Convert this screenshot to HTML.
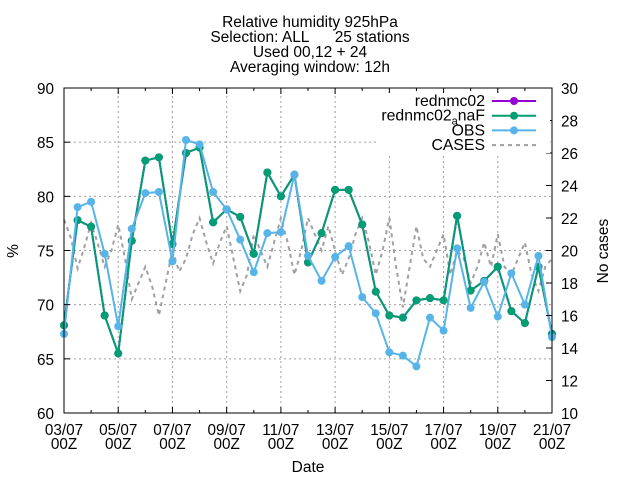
<!DOCTYPE html>
<html><head><meta charset="utf-8"><style>
body{margin:0;background:#fff}
svg{display:block;font-family:"Liberation Sans",sans-serif}
</style></head><body>
<svg id="chart" width="640" height="480" viewBox="0 0 640 480" xmlns="http://www.w3.org/2000/svg">
<g font-size="15.5" text-anchor="middle" fill="#000" style="white-space:pre">
<text x="310" y="27">Relative humidity 925hPa</text>
<text x="310" y="42" xml:space="preserve">Selection: ALL      25 stations</text>
<text x="310" y="57">Used 00,12 + 24</text>
<text x="310" y="72">Averaging window: 12h</text>
</g>
<g id="grid"></g>
<g id="series"></g>
<g id="axes"></g>
<text x="18" y="251" font-size="15.5" text-anchor="middle" transform="rotate(-90 18 251)">%</text>
<text x="608" y="251" font-size="15.5" text-anchor="middle" transform="rotate(-90 608 251)">No cases</text>
<text x="308" y="472" font-size="15.5" text-anchor="middle">Date</text>
<g id="legend"></g>
</svg>
<script>
const xTickLabels=["03/07","05/07","07/07","09/07","11/07","13/07","15/07","17/07","19/07","21/07"];
const yTicks=[60,65,70,75,80,85,90];
const y2Ticks=[10,12,14,16,18,20,22,24,26,28,30];
const naF=[68.1,77.8,77.2,69.0,65.5,75.9,83.3,83.6,75.6,84.0,84.5,77.6,78.8,78.1,74.7,82.2,80.0,82.0,73.9,76.6,80.6,80.6,77.4,71.2,69.0,68.8,70.4,70.6,70.4,78.2,71.3,72.2,73.5,69.4,68.3,73.5,67.3];
const rednmc=naF.slice();
const obs=[67.3,79.0,79.5,74.7,68.0,77.0,80.3,80.4,74.0,85.2,84.8,80.4,78.8,76.0,73.0,76.6,76.7,82.0,74.5,72.2,74.4,75.4,70.7,69.2,65.6,65.3,64.3,68.8,67.6,75.2,69.7,72.1,68.9,72.9,70.0,74.5,67.0];
const cases=[21.9,20.8,18.9,20.2,21.7,20.4,19.0,20.0,21.6,19.5,17.0,18.0,19.0,17.8,16.0,18.0,20.0,18.7,19.5,21.0,22.0,20.5,19.2,20.5,21.5,19.5,17.5,18.5,21.0,20.0,19.0,20.5,22.0,20.5,18.5,20.0,22.0,21.0,20.0,21.5,20.0,18.5,19.5,21.0,22.0,20.5,18.5,20.0,22.0,19.0,16.5,19.0,21.5,19.5,19.0,20.0,21.0,18.5,20.0,19.5,18.0,19.0,20.5,19.0,21.0,19.0,18.5,19.5,20.5,18.5,17.5,19.0,19.5];

const X0=64,X1=552,Y0=413,Y1=88,DAYS=18;
const xDay=d=>X0+(X1-X0)*d/DAYS;
const y=v=>Y0-(v-60)*(Y0-Y1)/30;
const y2=v=>Y0-(v-10)*(Y0-Y1)/20;
const NS="http://www.w3.org/2000/svg";
function mk(tag,attrs,parent){const e=document.createElementNS(NS,tag);for(const k in attrs)e.setAttribute(k,attrs[k]);parent.appendChild(e);return e;}
const grid=document.getElementById('grid'),axes=document.getElementById('axes'),ser=document.getElementById('series'),leg=document.getElementById('legend');

yTicks.forEach(v=>{
 if(v>60&&v<90){const l=mk('line',{x1:X0,x2:X1,y1:y(v),y2:y(v),stroke:'#a0a0a0','stroke-dasharray':'2,3'},grid);
 
 }
 const t=mk('text',{x:X0-10,y:y(v)+6,'font-size':15.3,'text-anchor':'end'},axes);t.textContent=v;
 
 
 mk('line',{x1:X0,x2:X0+6,y1:y(v),y2:y(v),stroke:'#000'},axes);
});
y2Ticks.forEach(v=>{
 const t=mk('text',{x:X1+9,y:y2(v)+6,'font-size':15.3},axes);t.textContent=v;
 
 
 mk('line',{x1:X1-6,x2:X1,y1:y2(v),y2:y2(v),stroke:'#000'},axes);
});
for(let d=1;d<DAYS;d+=2){
 mk('line',{x1:xDay(d),x2:xDay(d),y1:Y0,y2:Y0-3,stroke:'#000'},axes);
 mk('line',{x1:xDay(d),x2:xDay(d),y1:Y1,y2:Y1+3,stroke:'#000'},axes);
}
xTickLabels.forEach((s,i)=>{
 const x=xDay(i*2);
 if(i>0&&i<xTickLabels.length-1){const l=mk('line',{x1:x,x2:x,y1:Y0,y2:Y1,stroke:'#a0a0a0','stroke-dasharray':'2,3'},grid);
 
 }
 mk('line',{x1:x,x2:x,y1:Y0,y2:Y0-6,stroke:'#000'},axes);
 mk('line',{x1:x,x2:x,y1:Y1,y2:Y1+6,stroke:'#000'},axes);
 const t=mk('text',{x:x,y:435,'font-size':15.3,'text-anchor':'middle'},axes);t.textContent=s;
 
 
 const t2=mk('text',{x:x,y:449,'font-size':15.3,'text-anchor':'middle'},axes);t2.textContent='00Z';
 
 
});
const frame=mk('rect',{x:X0,y:Y1,width:X1-X0,height:Y0-Y1,fill:'none',stroke:'#000'},axes);



function line(vals,step,fy,color,dash,w,name){
 const pts=vals.map((v,i)=>xDay(i*step)+','+fy(v)).join(' ');
 const p=mk('polyline',{points:pts,fill:'none',stroke:color,'stroke-width':w,'stroke-dasharray':dash||'none'},ser);
 
 
}
function markers(vals,color,name){
 vals.forEach((v,i)=>{const c=mk('circle',{cx:xDay(i*0.5),cy:y(v),r:4,fill:color},ser);
 
 });
}
line(cases,0.25,y2,'#a0a0a0','4,4',2,'cases-line');
line(rednmc,0.5,y,'#9400d3','',2,'rednmc02-line');
markers(rednmc,'#9400d3','rednmc02-point');
line(naF,0.5,y,'#009e73','',2,'rednmc02-naf-line');
markers(naF,'#009e73','rednmc02-naf-point');
line(obs,0.5,y,'#56b4e9','',2,'obs-line');
markers(obs,'#56b4e9','obs-point');

const bg=mk('rect',{x:378,y:93,width:172,height:60,fill:'#fff'},leg);


const L=[['rednmc02','#9400d3',''],['rednmc02_naF','#009e73',''],['OBS','#56b4e9',''],['CASES','#a0a0a0','4,4']];
L.forEach((e,i)=>{
 const yy=101+i*14.7;
 const g=mk('g',{},leg);
 
 
 const t=mk('text',{x:485,y:yy+5,'font-size':15.8,'text-anchor':'end'},g);
 if(i===1){t.innerHTML='rednmc02<tspan font-size="11" dy="4">a</tspan><tspan dy="-4">naF</tspan>';}else t.textContent=e[0];
 mk('line',{x1:492,x2:536,y1:yy,y2:yy,stroke:e[1],'stroke-width':2,'stroke-dasharray':e[2]||'none'},g);
 if(i<3)mk('circle',{cx:514,cy:yy,r:4,fill:e[1]},g);
});
</script>
</body></html>
